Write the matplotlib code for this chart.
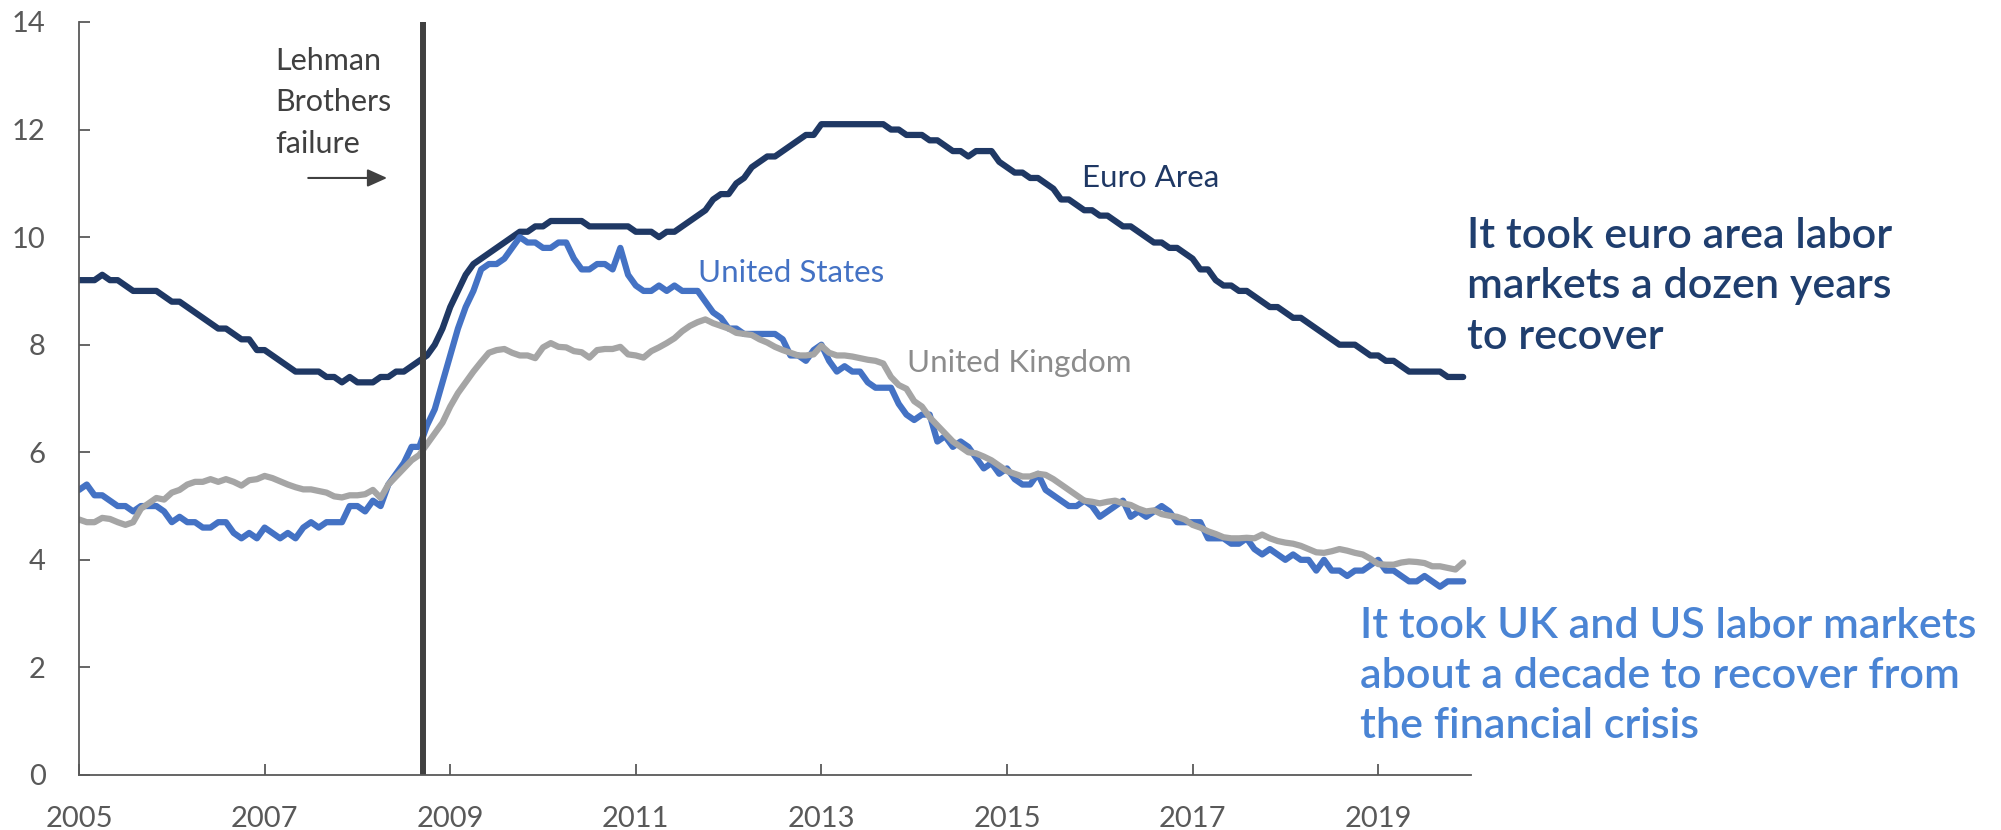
import numpy as np
import pandas as pd
import matplotlib
matplotlib.use("Agg")
import matplotlib.pyplot as plt

plt.rcParams['font.family'] = ['Lato', 'DejaVu Sans']

# monthly unemployment rate, Jan 2005 - Dec 2019 (%)
months = pd.date_range("2005-01-01", "2019-12-01", freq="MS")

euro_area = [
    9.2, 9.2, 9.2, 9.3, 9.2, 9.2, 9.1, 9.0, 9.0, 9.0, 9.0, 8.9,
    8.8, 8.8, 8.7, 8.6, 8.5, 8.4, 8.3, 8.3, 8.2, 8.1, 8.1, 7.9,
    7.9, 7.8, 7.7, 7.6, 7.5, 7.5, 7.5, 7.5, 7.4, 7.4, 7.3, 7.4,
    7.3, 7.3, 7.3, 7.4, 7.4, 7.5, 7.5, 7.6, 7.7, 7.8, 8.0, 8.3,
    8.7, 9.0, 9.3, 9.5, 9.6, 9.7, 9.8, 9.9, 10.0, 10.1, 10.1, 10.2,
    10.2, 10.3, 10.3, 10.3, 10.3, 10.3, 10.2, 10.2, 10.2, 10.2, 10.2, 10.2,
    10.1, 10.1, 10.1, 10.0, 10.1, 10.1, 10.2, 10.3, 10.4, 10.5, 10.7, 10.8,
    10.8, 11.0, 11.1, 11.3, 11.4, 11.5, 11.5, 11.6, 11.7, 11.8, 11.9, 11.9,
    12.1, 12.1, 12.1, 12.1, 12.1, 12.1, 12.1, 12.1, 12.1, 12.0, 12.0, 11.9,
    11.9, 11.9, 11.8, 11.8, 11.7, 11.6, 11.6, 11.5, 11.6, 11.6, 11.6, 11.4,
    11.3, 11.2, 11.2, 11.1, 11.1, 11.0, 10.9, 10.7, 10.7, 10.6, 10.5, 10.5,
    10.4, 10.4, 10.3, 10.2, 10.2, 10.1, 10.0, 9.9, 9.9, 9.8, 9.8, 9.7,
    9.6, 9.4, 9.4, 9.2, 9.1, 9.1, 9.0, 9.0, 8.9, 8.8, 8.7, 8.7,
    8.6, 8.5, 8.5, 8.4, 8.3, 8.2, 8.1, 8.0, 8.0, 8.0, 7.9, 7.8,
    7.8, 7.7, 7.7, 7.6, 7.5, 7.5, 7.5, 7.5, 7.5, 7.4, 7.4, 7.4,
]

united_states = [
    5.3, 5.4, 5.2, 5.2, 5.1, 5.0, 5.0, 4.9, 5.0, 5.0, 5.0, 4.9,
    4.7, 4.8, 4.7, 4.7, 4.6, 4.6, 4.7, 4.7, 4.5, 4.4, 4.5, 4.4,
    4.6, 4.5, 4.4, 4.5, 4.4, 4.6, 4.7, 4.6, 4.7, 4.7, 4.7, 5.0,
    5.0, 4.9, 5.1, 5.0, 5.4, 5.6, 5.8, 6.1, 6.1, 6.5, 6.8, 7.3,
    7.8, 8.3, 8.7, 9.0, 9.4, 9.5, 9.5, 9.6, 9.8, 10.0, 9.9, 9.9,
    9.8, 9.8, 9.9, 9.9, 9.6, 9.4, 9.4, 9.5, 9.5, 9.4, 9.8, 9.3,
    9.1, 9.0, 9.0, 9.1, 9.0, 9.1, 9.0, 9.0, 9.0, 8.8, 8.6, 8.5,
    8.3, 8.3, 8.2, 8.2, 8.2, 8.2, 8.2, 8.1, 7.8, 7.8, 7.7, 7.9,
    8.0, 7.7, 7.5, 7.6, 7.5, 7.5, 7.3, 7.2, 7.2, 7.2, 6.9, 6.7,
    6.6, 6.7, 6.7, 6.2, 6.3, 6.1, 6.2, 6.1, 5.9, 5.7, 5.8, 5.6,
    5.7, 5.5, 5.4, 5.4, 5.6, 5.3, 5.2, 5.1, 5.0, 5.0, 5.1, 5.0,
    4.8, 4.9, 5.0, 5.1, 4.8, 4.9, 4.8, 4.9, 5.0, 4.9, 4.7, 4.7,
    4.7, 4.7, 4.4, 4.4, 4.4, 4.3, 4.3, 4.4, 4.2, 4.1, 4.2, 4.1,
    4.0, 4.1, 4.0, 4.0, 3.8, 4.0, 3.8, 3.8, 3.7, 3.8, 3.8, 3.9,
    4.0, 3.8, 3.8, 3.7, 3.6, 3.6, 3.7, 3.6, 3.5, 3.6, 3.6, 3.6,
]

united_kingdom = [
    4.75, 4.70, 4.70, 4.78, 4.76, 4.70, 4.65, 4.70, 4.95, 5.05, 5.15, 5.12,
    5.25, 5.30, 5.40, 5.45, 5.45, 5.50, 5.45, 5.50, 5.45, 5.38, 5.48, 5.50,
    5.56, 5.52, 5.46, 5.40, 5.35, 5.31, 5.31, 5.28, 5.25, 5.18, 5.16, 5.20,
    5.20, 5.22, 5.30, 5.15, 5.40, 5.55, 5.70, 5.85, 5.95, 6.15, 6.35, 6.55,
    6.85, 7.10, 7.30, 7.50, 7.68, 7.85, 7.90, 7.92, 7.85, 7.80, 7.80, 7.75,
    7.95, 8.03, 7.96, 7.95, 7.88, 7.86, 7.76, 7.90, 7.92, 7.92, 7.96, 7.82,
    7.80, 7.76, 7.88, 7.95, 8.03, 8.12, 8.25, 8.35, 8.42, 8.47, 8.40, 8.35,
    8.30, 8.22, 8.20, 8.18, 8.10, 8.04, 7.96, 7.90, 7.85, 7.80, 7.80, 7.82,
    7.98, 7.85, 7.80, 7.80, 7.78, 7.75, 7.72, 7.70, 7.65, 7.40, 7.25, 7.18,
    6.95, 6.85, 6.65, 6.50, 6.35, 6.20, 6.10, 6.00, 5.98, 5.92, 5.85, 5.75,
    5.65, 5.60, 5.55, 5.55, 5.60, 5.58, 5.50, 5.40, 5.30, 5.20, 5.10, 5.08,
    5.05, 5.08, 5.10, 5.05, 5.02, 4.95, 4.90, 4.92, 4.85, 4.82, 4.80, 4.75,
    4.65, 4.60, 4.53, 4.48, 4.42, 4.40, 4.40, 4.41, 4.40, 4.47, 4.40, 4.35,
    4.32, 4.30, 4.26, 4.20, 4.14, 4.13, 4.16, 4.20, 4.17, 4.13, 4.10, 4.02,
    3.92, 3.91, 3.91, 3.95, 3.97, 3.96, 3.94, 3.88, 3.88, 3.85, 3.82, 3.95,
]

year_ticks = [2005, 2007, 2009, 2011, 2013, 2015, 2017, 2019]
lehman_date = 2008 + 8.5 / 12

# decimal years for the x axis
x = months.year + (months.month - 1) / 12

navy = "#1f3864"
blue = "#4472c4"
grey = "#a5a5a5"
dark = "#404040"
tick_grey = "#595959"

fig = plt.figure(figsize=(20.01, 8.30), dpi=100)
ax = fig.add_axes([0.0395, 0.0663, 0.6956, 0.9072])

ax.plot(x, euro_area, color=navy, lw=4.5, solid_capstyle="round", solid_joinstyle="round")
ax.plot(x, united_states, color=blue, lw=4.5, solid_capstyle="round", solid_joinstyle="round")
ax.plot(x, united_kingdom, color=grey, lw=4.5, solid_capstyle="round", solid_joinstyle="round")

ax.axvline(lehman_date, color=dark, lw=4.3)

ax.set_xlim(2005, 2020)
ax.set_ylim(0, 14)
ax.set_xticks(year_ticks)
ax.set_xticklabels([str(y) for y in year_ticks])
ax.set_yticks(np.arange(0, 15, 2))

for s in ["top", "right"]:
    ax.spines[s].set_visible(False)
for s in ["left", "bottom"]:
    ax.spines[s].set_color(tick_grey)
    ax.spines[s].set_linewidth(1.3)

ax.tick_params(axis="both", direction="in", length=8, width=1.3, color=tick_grey,
               labelcolor=tick_grey, labelsize=21)
ax.tick_params(axis="y", pad=24)
ax.tick_params(axis="x", pad=22)

# series labels
ax.text(2015.81, 10.93, "Euro Area", color=navy, fontsize=22.5, va="baseline")
ax.text(2011.67, 9.17, "United States", color=blue, fontsize=22.5, va="baseline")
ax.text(2013.92, 7.49, "United Kingdom", color="#8c8c8c", fontsize=22.5, va="baseline")

# Lehman note and arrow (baseline of the last line)
ax.text(2007.11, 11.56, "Lehman\nBrothers\nfailure", color=dark, fontsize=22,
        va="baseline", linespacing=1.6)
ax.annotate("", xy=(2008.35, 11.1), xytext=(2007.44, 11.1),
            arrowprops=dict(arrowstyle="-|>,head_length=0.6,head_width=0.27",
                            color=dark, lw=1.5, mutation_scale=20))

# takeaways on the right
fig.text(0.733, 0.655, "It took euro area labor\nmarkets a dozen years\nto recover",
         color="#1f3e6e", fontsize=31, fontweight="semibold", va="center",
         linespacing=1.4)
fig.text(0.6797, 0.1855, "It took UK and US labor markets\nabout a decade to recover from\nthe financial crisis",
         color="#4a84d4", fontsize=31, fontweight="semibold", va="center",
         linespacing=1.4)

fig.savefig("out.png", dpi=100)
